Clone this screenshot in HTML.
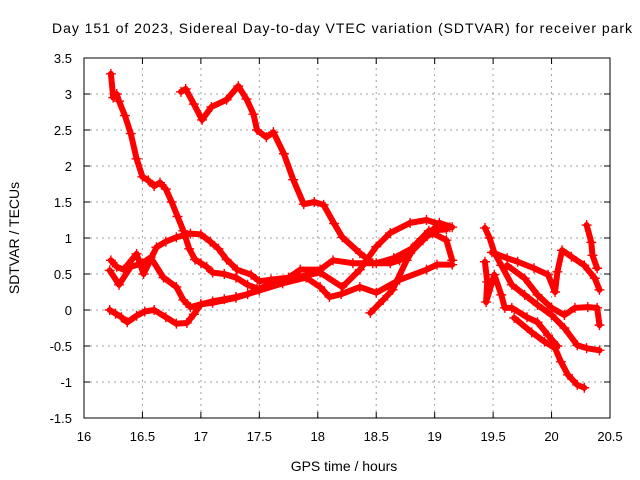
<!DOCTYPE html>
<html><head><meta charset="utf-8"><style>
html,body{margin:0;padding:0;background:#fff;}
svg{display:block;font-family:"Liberation Sans",sans-serif;}
</style></head><body>
<svg id="chart" width="640" height="480" viewBox="0 0 640 480">
<rect x="0" y="0" width="640" height="480" fill="#fff"/>
<text x="342" y="33" font-size="14" text-anchor="middle" textLength="580">Day 151 of 2023, Sidereal Day-to-day VTEC variation (SDTVAR) for receiver park</text>
<text x="344" y="471" font-size="14" text-anchor="middle">GPS time / hours</text>
<text transform="translate(19,238) rotate(-90)" font-size="14" text-anchor="middle">SDTVAR / TECUs</text>
<g id="grid"></g><g id="ticks"></g><g id="series"></g>
<rect x="84" y="58" width="526" height="360" fill="none" stroke="#000" stroke-width="1"/>
</svg>
<script>
const xTicks=[16,16.5,17,17.5,18,18.5,19,19.5,20,20.5];
const xTickLabels=["16","16.5","17","17.5","18","18.5","19","19.5","20","20.5"];
const yTicks=[-1.5,-1,-0.5,0,0.5,1,1.5,2,2.5,3,3.5];
const yTickLabels=["-1.5","-1","-0.5","0","0.5","1","1.5","2","2.5","3","3.5"];
const traceA=[[16.23,3.28],[16.25,2.95],[16.28,3.0],[16.3,2.9],[16.35,2.7],[16.4,2.45],[16.45,2.1],[16.5,1.85],[16.55,1.8],[16.6,1.72],[16.65,1.77],[16.7,1.68],[16.75,1.5],[16.8,1.3],[16.85,1.1],[16.9,0.85],[16.95,0.7],[17.0,0.65],[17.05,0.6],[17.1,0.52],[17.2,0.5],[17.3,0.45],[17.4,0.35],[17.48,0.3]];
const traceB=[[16.83,3.03],[16.87,3.07],[16.94,2.86],[17.01,2.64],[17.09,2.82],[17.22,2.92],[17.32,3.11],[17.39,2.93],[17.45,2.72],[17.48,2.5],[17.56,2.4],[17.62,2.47],[17.71,2.17],[17.79,1.81],[17.88,1.47],[17.97,1.5],[18.05,1.46],[18.14,1.2],[18.21,1.01],[18.36,0.79],[18.47,0.65],[18.62,0.65],[18.70,0.69],[18.79,0.79],[18.9,0.97],[19.04,1.21],[19.15,1.15]];
const traceC=[[16.22,0.0],[16.27,-0.05],[16.32,-0.1],[16.37,-0.17],[16.45,-0.08],[16.52,-0.02],[16.6,0.0],[16.7,-0.1],[16.79,-0.19],[16.88,-0.18],[16.94,-0.06],[17.0,0.08],[17.1,0.12],[17.2,0.15],[17.3,0.18],[17.4,0.22],[17.5,0.3],[17.6,0.36],[17.7,0.4],[17.8,0.45],[17.9,0.48],[18.02,0.52],[18.21,0.32],[18.36,0.56],[18.5,0.88],[18.62,1.07],[18.79,1.21],[18.93,1.25],[19.13,1.15]];
const traceD=[[16.23,0.69],[16.28,0.6],[16.34,0.56],[16.45,0.78],[16.51,0.5],[16.62,0.87],[16.7,0.95],[16.79,1.01],[16.91,1.06],[17.0,1.05],[17.08,0.95],[17.15,0.85],[17.22,0.7],[17.31,0.56],[17.43,0.49],[17.5,0.4],[17.6,0.42],[17.75,0.45],[17.85,0.56],[18.02,0.56],[18.13,0.69],[18.3,0.65],[18.5,0.65],[18.65,0.72],[18.8,0.85],[18.95,1.1],[19.1,1.12]];
const traceE=[[16.22,0.55],[16.3,0.35],[16.4,0.6],[16.5,0.65],[16.57,0.73],[16.68,0.45],[16.79,0.32],[16.85,0.14],[16.91,0.04],[17.0,0.08],[17.1,0.1],[17.3,0.17],[17.5,0.27],[17.7,0.37],[17.9,0.45],[18.02,0.32],[18.1,0.18],[18.2,0.22],[18.36,0.32],[18.5,0.24],[18.7,0.42],[18.93,0.56],[19.02,0.63],[19.15,0.63]];
const traceF=[[18.45,-0.04],[18.56,0.14],[18.64,0.28],[18.76,0.69],[18.85,0.93],[18.98,1.07],[19.1,0.97],[19.15,0.69]];
const traceG=[[19.43,1.14],[19.47,1.0],[19.51,0.8],[19.57,0.62],[19.66,0.35],[19.77,0.21],[19.88,0.07],[20.0,-0.07],[20.11,-0.25],[20.22,-0.49],[20.3,-0.53],[20.41,-0.56]];
const traceH=[[19.68,-0.11],[19.83,-0.31],[19.94,-0.44],[20.03,-0.53],[20.08,-0.72],[20.14,-0.9],[20.22,-1.04],[20.28,-1.08]];
const traceI=[[19.62,0.62],[19.77,0.44],[19.88,0.21],[20.0,0.03],[20.11,-0.07],[20.2,0.03],[20.31,0.04],[20.39,0.03],[20.41,-0.21]];
const traceJ=[[19.49,0.8],[19.62,0.72],[19.71,0.67],[19.85,0.58],[19.97,0.49],[20.03,0.25],[20.05,0.53],[20.09,0.83],[20.17,0.74],[20.28,0.62],[20.37,0.44],[20.41,0.28]];
const traceK=[[20.3,1.18],[20.34,0.94],[20.35,0.76],[20.39,0.58]];
const traceL=[[19.43,0.67],[19.45,0.39],[19.44,0.11],[19.51,0.49],[19.57,0.21],[19.6,0.03],[19.66,0.03],[19.79,-0.1],[19.88,-0.17],[19.97,-0.35],[20.05,-0.5]];
const traces=[traceA,traceB,traceC,traceD,traceE,traceF,traceG,traceH,traceI,traceJ,traceK,traceL];

const NS="http://www.w3.org/2000/svg";
const X0=84,X1=610,Y0=418,Y1=58,XMIN=16,XMAX=20.5,YMIN=-1.5,YMAX=3.5;
function sx(v){return X0+(v-XMIN)/(XMAX-XMIN)*(X1-X0);}
function sy(v){return Y0-(v-YMIN)/(YMAX-YMIN)*(Y0-Y1);}
function mk(tag,at,parent){const e=document.createElementNS(NS,tag);for(const k in at)e.setAttribute(k,at[k]);parent.appendChild(e);return e;}
const grid=document.getElementById('grid'),ticks=document.getElementById('ticks'),ser=document.getElementById('series');
xTicks.forEach((t,i)=>{const x=sx(t);
 if(i>0&&i<xTicks.length-1){const g=mk('line',{x1:x,y1:Y0,x2:x,y2:Y1,stroke:'#a0a0a0','stroke-dasharray':'2,4'},grid);
 
 }
 const tk=mk('path',{d:`M${x},${Y0}v-6M${x},${Y1}v6`,stroke:'#000'},ticks);
 
 
 const lb=mk('text',{x:x,y:441,'font-size':13,'text-anchor':'middle'},ticks);lb.textContent=xTickLabels[i];
 
 
});
yTicks.forEach((t,i)=>{const y=sy(t);
 if(i>0&&i<yTicks.length-1){const g=mk('line',{x1:X0,y1:y,x2:X1,y2:y,stroke:'#a0a0a0','stroke-dasharray':'2,4'},grid);
 
 }
 const tk=mk('path',{d:`M${X0},${y}h6M${X1},${y}h-6`,stroke:'#000'},ticks);
 
 
 const lb=mk('text',{x:72,y:y+5,'font-size':13,'text-anchor':'end'},ticks);lb.textContent=yTickLabels[i];
 
 
});
traces.forEach((tr,k)=>{
 const g=mk('g',{},ser);
 
 
 const pl=mk('polyline',{points:tr.map(p=>sx(p[0])+','+sy(p[1])).join(' '),fill:'none',stroke:'#ff0000','stroke-width':6,'stroke-linejoin':'round','stroke-linecap':'round'},g);
 
 
 tr.forEach(p=>{const x=sx(p[0]),y=sy(p[1]);
  const m=mk('path',{d:`M${x-5},${y}h10M${x},${y-5}v10`,stroke:'#ff0000','stroke-width':1.4},g);
  
  
 });
});
</script>
</body></html>
